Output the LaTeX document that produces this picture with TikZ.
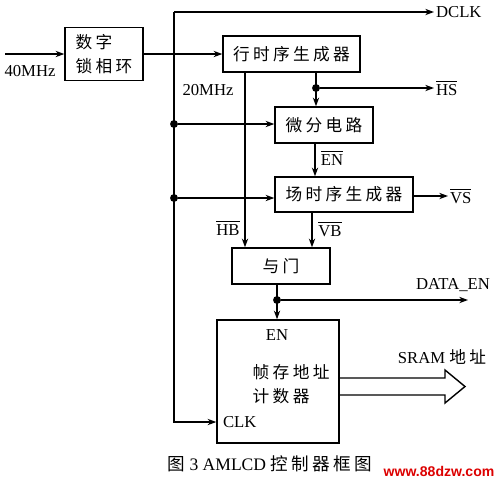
\documentclass[tikz,border=0pt]{standalone}
\usepackage{fontspec}
\setmainfont{Liberation Serif}
\newfontfamily\cjk[LetterSpace=20]{Noto Sans CJK SC}
\newfontfamily\wmfont{Liberation Sans}
\usetikzlibrary{arrows.meta}
\def\ovl#1{$\overline{\hbox{#1}}$}

\tikzset{
  blk/.style={draw, line width=0.8pt, inner sep=0pt, font={\fontsize{9.5}{14}\selectfont\cjk}},
  lbl/.style={inner sep=1pt, font=\fontsize{9.5}{11}\selectfont},
  jdot/.style={circle, fill=black, inner sep=0pt, minimum size=4.5pt},
  sig/.style={line width=0.7pt, -{Stealth[length=5pt,width=3.6pt]}},
}

\begin{document}
\begin{tikzpicture}[x=0.02cm, y=-0.02cm]
			%%%%% START %%%%%
			\useasboundingbox (0,0) rectangle (500,485);
			
			% blocks
			\node[blk, minimum width=1.56cm, minimum height=1.06cm, align=left] (pll) at (104,54) {数字\\锁相环};
			\node[blk, minimum width=2.74cm, minimum height=0.72cm] (hgen) at (291.5,54) {行时序生成器};
			\node[blk, minimum width=1.96cm, minimum height=0.72cm] (diff) at (324,125) {微分电路};
			\node[blk, minimum width=2.76cm, minimum height=0.70cm] (vgen) at (344,194.5) {场时序生成器};
			\node[blk, minimum width=1.96cm, minimum height=0.72cm] (andg) at (281,266) {与门};
			\node[blk, minimum width=2.44cm, minimum height=2.46cm] (cnt) at (278,381.5) {};
			
			% text inside the counter
			\node[lbl] (en) at (277,335) {EN};
			\node[blk, draw=none, anchor=west, align=left] (cnttxt) at (252,384) {帧存地址\\计数器};
			\node[lbl, anchor=west] (clk) at (221,422) {CLK};
			
			% labels
			\node[lbl] (in40) at (30,71) {40MHz};
			\node[lbl] (f20) at (208,90) {20MHz};
			\node[lbl, anchor=west] (dclk) at (434,12) {DCLK};
			\node[lbl, anchor=west] (hs) at (434,88) {\ovl{HS}};
			\node[lbl, anchor=west] (vs) at (448,196) {\ovl{VS}};
			\node[lbl] (hb) at (228,228) {\ovl{HB}};
			\node[lbl] (enb) at (332,158) {\ovl{EN}};
			\node[lbl] (vb) at (330,229) {\ovl{VB}};
			\node[lbl] (daten) at (453,285) {DATA\_EN};
			\node[lbl] (sram) at (442,357) {SRAM {\cjk 地址}};
			
			% helper coordinates
			\coordinate (inp) at (5,54);
			\coordinate (bt) at (174,12);
			\coordinate (bb) at (174,422);
			\coordinate (hbx) at (245,0);
			\coordinate (hsx) at (316,0);
			\coordinate (enx) at (315,0);
			\coordinate (vbx) at (312,0);
			\coordinate (adx) at (277,0);
			\coordinate (deend) at (468,300);
			\node[jdot] (d1) at (174,124) {};
			\node[jdot] (d2) at (174,198) {};
			\node[jdot] (d3) at (316,88) {};
			\node[jdot] (d4) at (277,300) {};
			
			% clock path
			\draw[sig] (inp) -- (pll.west);
			\draw[sig] (pll.east) -- (hgen.west);
			\draw[sig] (bt) -- (dclk.west);
			\draw[sig] (bt) -- (bb) -- (bb -| cnt.west);
			\draw[sig] (d1) -- (d1 -| diff.west);
			\draw[sig] (d2) -- (d2 -| vgen.west);
			
			% row / field signals
			\draw[sig] (hgen.south -| hsx) -- (diff.north -| hsx);
			\draw[sig] (d3) -- (hs.west);
			\draw[sig] (hgen.south -| hbx) -- (andg.north -| hbx);
			\draw[sig] (diff.south -| enx) -- (vgen.north -| enx);
			\draw[sig] (vgen.east |- vs.west) -- (vs.west);
			\draw[sig] (vgen.south -| vbx) -- (andg.north -| vbx);
			
			% enable
			\draw[sig] (andg.south -| adx) -- (cnt.north -| adx);
			\draw[sig] (d4) -- (deend);
			
			% address bus arrow
			\draw[line width=0.8pt] (cnt.east |- 0,378) -- (445,378) -- (445,370) -- (465,386.5)
				-- (445,403) -- (445,395) -- (cnt.east |- 0,395);
			
			% caption
			\node[font=\fontsize{10}{12}\selectfont] (cap) at (270,464) {{\cjk 图} 3 AMLCD {\cjk 控制器框图}};
			\node[text={rgb,255:red,220;green,0;blue,0}, font={\fontsize{8}{10}\selectfont\wmfont\bfseries}] (wm) at (439,471) {www.88dzw.com};
			
			%%%%% END %%%%%
\end{tikzpicture}
\end{document}
